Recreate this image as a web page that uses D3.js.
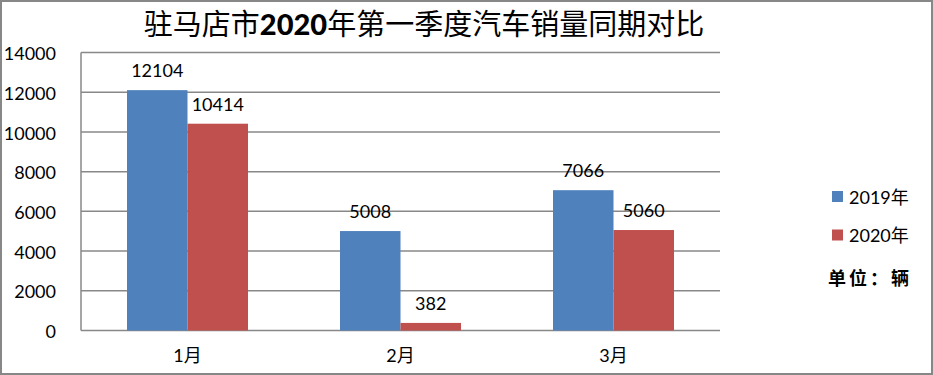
<!DOCTYPE html>
<html><head><meta charset="utf-8">
<script src="https://cdn.jsdelivr.net/npm/d3@7"></script>
<style>html,body{margin:0;padding:0;background:#fff}svg{display:block}</style>
</head><body>
<script>
const categories = ["1月", "2月", "3月"];
const seriesNames = ["2019年", "2020年"];
const values2019 = [12104, 5008, 7066];
const values2020 = [10414, 382, 5060];
const yTicks = [0, 2000, 4000, 6000, 8000, 10000, 12000, 14000];
const colors = ["#4F81BD", "#C0504D"];
const titleParts = [["驻马店市", false], ["2020", true], ["年第一季度汽车销量同期对比", false]];
const unitText = "单位：辆";

const W = 933, H = 375;
const font = "Lato, 'Noto Sans CJK SC', sans-serif";
const svg = d3.select("body").append("svg").attr("width", W).attr("height", H);
svg.append("rect").attr("width", W).attr("height", H).attr("fill", "#fff");
svg.append("rect").attr("x", 1).attr("y", 1).attr("width", 931).attr("height", 373)
  .attr("fill", "none").attr("stroke", "#878787").attr("stroke-width", 2);

const plot = {l: 81, r: 720, t: 52.5, b: 330.5};
const x0 = d3.scaleBand().domain(categories).range([plot.l, plot.r]).paddingInner(0.432).paddingOuter(0.216);
const x1 = d3.scaleBand().domain(seriesNames).range([0, x0.bandwidth()]);
const y = d3.scaleLinear().domain([0, 14000]).range([plot.b, plot.t]);

// gridlines
svg.append("g").selectAll("line").data(yTicks).join("line")
  .attr("x1", plot.l).attr("x2", plot.r)
  .attr("y1", d => y(d)).attr("y2", d => y(d))
  .attr("stroke", "#888").attr("stroke-width", 1.5);
svg.append("line").attr("x1", plot.l).attr("x2", plot.l).attr("y1", plot.t).attr("y2", plot.b)
  .attr("stroke", "#888").attr("stroke-width", 1.5);

// y axis labels
const yAxis = d3.axisLeft(y).tickValues(yTicks).tickSize(0).tickPadding(25).tickFormat(d3.format("d"));
const ya = svg.append("g").attr("transform", `translate(${plot.l},0)`).call(yAxis);
ya.select(".domain").remove();
ya.selectAll("text").attr("font-family", font).attr("font-size", 18).attr("fill", "#000").attr("dy", "0.4em");

// x axis labels
const xAxis = d3.axisBottom(x0).tickSize(0).tickPadding(19);
const xa = svg.append("g").attr("transform", `translate(0,${plot.b})`).call(xAxis);
xa.select(".domain").remove();
xa.selectAll("text").attr("font-family", font).attr("font-size", 18).attr("fill", "#000");

const data = categories.map((c, i) => ({c, vals: [values2019[i], values2020[i]]}));
const groups = svg.append("g").selectAll("g").data(data).join("g")
  .attr("transform", d => `translate(${x0(d.c)},0)`);
groups.selectAll("rect").data(d => d.vals.map((v, j) => ({v, s: seriesNames[j], j}))).join("rect")
  .attr("x", d => x1(d.s)).attr("width", x1.bandwidth())
  .attr("y", d => y(d.v)).attr("height", d => y(0) - y(d.v))
  .attr("fill", d => colors[d.j]);
groups.selectAll("text").data(d => d.vals.map((v, j) => ({v, s: seriesNames[j], j}))).join("text")
  .attr("x", d => x1(d.s) + x1.bandwidth() / 2).attr("y", d => y(d.v) - 13)
  .attr("text-anchor", "middle").attr("font-family", font).attr("font-size", 18).attr("fill", "#000")
  .text(d => d.v);

// title
const t = svg.append("text").attr("x", 424).attr("y", 35).attr("text-anchor", "middle")
  .attr("font-size", 29).attr("fill", "#000");
titleParts.forEach(([s, b]) => {
  t.append("tspan")
    .attr("font-family", b ? "Lato, 'Open Sans', sans-serif" : "'Noto Sans CJK SC', sans-serif")
    .attr("font-weight", b ? "900" : "normal")
    .text(s);
});

// legend
const leg = svg.append("g");
seriesNames.forEach((s, i) => {
  const yy = 191 + i * 38.5;
  leg.append("rect").attr("x", 832).attr("y", yy).attr("width", 11).attr("height", 11).attr("fill", colors[i]);
  leg.append("text").attr("x", 849).attr("y", yy + 12.5).attr("font-family", font).attr("font-size", 18)
    .attr("fill", "#000").text(s);
});
leg.append("text").attr("x", 828).attr("y", 285).attr("font-family", "'Noto Sans CJK SC', sans-serif")
  .attr("font-weight", "bold").attr("font-size", 18).attr("letter-spacing", 3).attr("fill", "#000").text(unitText);
</script>
</body></html>
